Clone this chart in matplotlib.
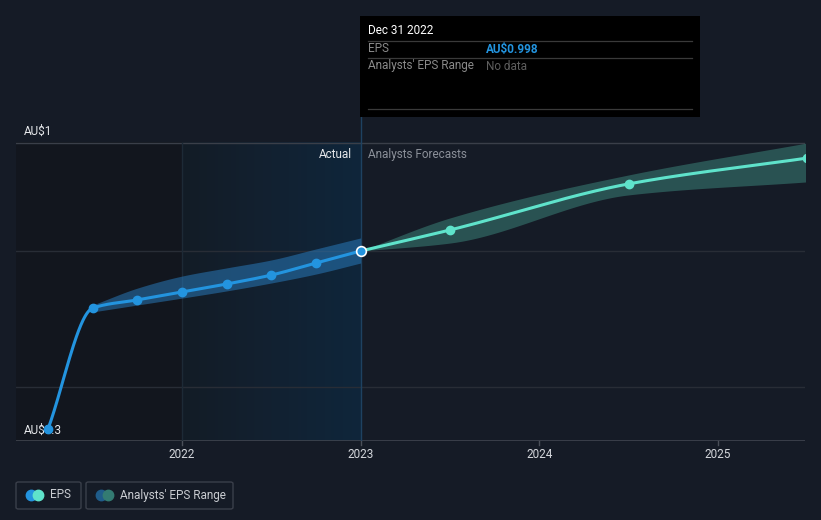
import numpy as np
import matplotlib
matplotlib.use("Agg")
import matplotlib.pyplot as plt
from matplotlib.colors import LinearSegmentedColormap
from matplotlib.patches import FancyBboxPatch, Rectangle

plt.rcParams['font.family'] = ['Roboto', 'DejaVu Sans']

# ---------------- data ----------------
actual_x = [2021.25, 2021.5, 2021.75, 2022.0, 2022.25, 2022.5, 2022.75, 2023.0]
actual_eps = [0.303, 0.775, 0.807, 0.838, 0.869, 0.904, 0.951, 0.998]
band_act_x = [2021.5, 2021.75, 2022.0, 2022.25, 2022.5, 2022.75, 2023.0]
band_act_hi = [0.787, 0.853, 0.900, 0.932, 0.963, 1.006, 1.049]
band_act_lo = [0.760, 0.787, 0.814, 0.842, 0.873, 0.908, 0.951]

fc_x = [2023.0, 2023.5, 2024.5, 2025.5]
fc_eps = [0.998, 1.080, 1.260, 1.361]
fc_hi = [0.998, 1.127, 1.295, 1.420]
fc_lo = [0.998, 1.029, 1.217, 1.268]

grid_vals = [0.467, 0.998, 1.42]
xticks = [2022, 2023, 2024, 2025]
xtick_labels = ['2022', '2023', '2024', '2025']

BG = '#151b26'
BLUE = '#2394df'
TEAL = '#5fe3cb'


def smooth(x, y, n=60):
    """monotone cubic (Fritsch-Carlson) curve for drawing"""
    x = np.asarray(x, float); y = np.asarray(y, float)
    h = np.diff(x); d = np.diff(y) / h
    m = np.zeros_like(y)
    m[0] = d[0]; m[-1] = d[-1]
    for i in range(1, len(y) - 1):
        if d[i - 1] * d[i] <= 0:
            m[i] = 0
        else:
            w1 = 2 * h[i] + h[i - 1]; w2 = h[i] + 2 * h[i - 1]
            m[i] = (w1 + w2) / (w1 / d[i - 1] + w2 / d[i])
    xs, ys = [], []
    for i in range(len(h)):
        t = np.linspace(0, 1, n, endpoint=(i == len(h) - 1))
        h00 = 2 * t**3 - 3 * t**2 + 1; h10 = t**3 - 2 * t**2 + t
        h01 = -2 * t**3 + 3 * t**2; h11 = t**3 - t**2
        xs.append(x[i] + t * h[i])
        ys.append(h00 * y[i] + h10 * h[i] * m[i] + h01 * y[i + 1] + h11 * h[i] * m[i + 1])
    return np.concatenate(xs), np.concatenate(ys)


W, H = 821, 520
fig = plt.figure(figsize=(W / 100, H / 100), dpi=100, facecolor=BG)
px_per_year = 178.6
x0 = 2022 - (182 - 16) / px_per_year
x1 = 2022 + (805 - 182) / px_per_year
y_bot = 0.998 - (441 - 251) / 256.0
y_top = 0.998 + 251 / 256.0
ax = fig.add_axes([16 / W, (H - 441) / H, (805 - 16) / W, 441 / H])
ax.set_facecolor(BG)
ax.set_xlim(x0, x1)
ax.set_ylim(y_bot, y_top)
for s in ax.spines.values():
    s.set_visible(False)
ax.set_xticks([]); ax.set_yticks([])

top_val = grid_vals[-1]
# background shaded regions
cm1 = LinearSegmentedColormap.from_list('a', ['#12161e', '#13171f'])
ax.imshow(np.linspace(0, 1, 256).reshape(1, -1), cmap=cm1, aspect='auto', interpolation='bilinear',
          extent=[x0, 2022.0, y_bot, top_val], zorder=0)
cm2 = LinearSegmentedColormap.from_list('b', ['#131c26', '#122131', '#0f263b'])
ax.imshow(np.linspace(0, 1, 256).reshape(1, -1), cmap=cm2, aspect='auto', interpolation='bilinear',
          extent=[2022.0, 2023.0, y_bot, top_val], zorder=0)

# grid lines
for g in grid_vals:
    ax.plot([x0, x1], [g, g], color='#3a3f49' if g == top_val else '#282d36', lw=1, zorder=1)
ax.plot([x0, x1], [y_bot + 0.001, y_bot + 0.001], color='#40454f', lw=1.2, zorder=1)
ax.plot([2022, 2022], [y_bot, top_val], color='#1d2a36', lw=1, zorder=1)
ax.plot([2023, 2023], [y_bot, 0.998 + (251 - 117) / 256.0], color='#1e4261', lw=1, zorder=1)

# ticks
for t, lab in zip(xticks, xtick_labels):
    ax.plot([t, t], [y_bot, y_bot - 4 / 256.0], color='#4a4f59', lw=1, clip_on=False, zorder=1)
    ax.text(t, y_bot - 14 / 256.0, lab, color='#d4d7dc', fontsize=8.5, ha='center', va='center',
            clip_on=False)

# bands
bx, bh = smooth(band_act_x, band_act_hi)
_, bl = smooth(band_act_x, band_act_lo)
ax.fill_between(bx, bl, bh, color='#2a80c4', alpha=0.5, lw=0, zorder=2)
fx, fh = smooth(fc_x, fc_hi)
_, fl = smooth(fc_x, fc_lo)
ax.fill_between(fx, fl, fh, color='#3d8a7e', alpha=0.5, lw=0, zorder=2)

# y labels (below lines)
ax.text(x0 + 8 / px_per_year, top_val + 12 / 256.0, 'AU$1',
        color='#e6e8eb', fontsize=8.5, ha='left', va='center', zorder=3)
ax.text(x0 + 8 / px_per_year, 0.998 - (430 - 251) / 256.0, 'AU$0.3',
        color='#e6e8eb', fontsize=8.5, ha='left', va='center', zorder=3)

# lines
sx, sy = smooth(actual_x, actual_eps)
ax.plot(sx, sy, color=BLUE, lw=2.2, zorder=4, solid_capstyle='round')
ax.plot(actual_x[:-1], actual_eps[:-1], 'o', color=BLUE, ms=6, zorder=5)
tx, ty = smooth(fc_x, fc_eps)
ax.plot(tx, ty, color=TEAL, lw=2.2, zorder=4, solid_capstyle='round')
ax.plot(fc_x[1:], fc_eps[1:], 'o', color=TEAL, ms=6, zorder=5)
ax.plot([actual_x[-1]], [actual_eps[-1]], 'o', color=BLUE, mec='white', mew=1.2, ms=7, zorder=6)

# section labels
ax.text(2023 - 9 / px_per_year, top_val - 12 / 256.0, 'Actual', color='#e6e8eb', fontsize=8.5,
        ha='right', va='center', zorder=3)
ax.text(2023 + 7 / px_per_year, top_val - 12 / 256.0, 'Analysts Forecasts', color='#8b9099',
        fontsize=8.5, ha='left', va='center', zorder=3)

# tooltip (figure pixel coords)
def fx_(px):
    return px / W


def fy_(py):
    return 1 - py / H


fig.patches.append(Rectangle((fx_(360), fy_(117)), (700 - 360) / W, (117 - 16) / H,
                             transform=fig.transFigure, facecolor='#000000', edgecolor='none', zorder=10))
for yy in [41, 58, 109]:
    fig.lines.append(plt.Line2D([fx_(368), fx_(692)], [fy_(yy), fy_(yy)], transform=fig.transFigure,
                                color='#3a3a3a', lw=0.9, zorder=11))
fig.text(fx_(368), fy_(31), 'Dec 31 2022', color='#ffffff', fontsize=8.5, va='center', zorder=12)
fig.text(fx_(368), fy_(49), 'EPS', color='#8a8a8a', fontsize=8.5, va='center', zorder=12)
fig.text(fx_(486), fy_(49), 'AU$0.998', color=BLUE, fontsize=8.5, fontweight='bold', va='center', zorder=12)
fig.text(fx_(368), fy_(66), "Analysts' EPS Range", color='#8a8a8a', fontsize=8.5, va='center', zorder=12)
fig.text(fx_(486), fy_(66), 'No data', color='#5e5e5e', fontsize=8.5, va='center', zorder=12)

# legend
def legbox(x_l, x_r, c1, c2, label):
    fig.patches.append(FancyBboxPatch((fx_(x_l), fy_(509)), (x_r - x_l) / W, 27 / H,
                                      boxstyle='round,pad=0,rounding_size=0.003',
                                      transform=fig.transFigure, facecolor='none',
                                      edgecolor='#3a3f4a', lw=1, zorder=10))
    fig.lines.append(plt.Line2D([fx_(x_l + 15)], [fy_(495)], marker='o', ms=7.5, color=c1,
                                transform=fig.transFigure, zorder=11))
    fig.lines.append(plt.Line2D([fx_(x_l + 22)], [fy_(495)], marker='o', ms=7.5, color=c2,
                                transform=fig.transFigure, zorder=12))
    fig.text(fx_(x_l + 34), fy_(495), label, color='#c9ccd1', fontsize=8.5, va='center', zorder=12)


legbox(16, 81, BLUE, TEAL, 'EPS')
legbox(86, 233, '#1f5c8a', '#337b72', "Analysts' EPS Range")

fig.savefig('out.png', dpi=100, facecolor=BG)
